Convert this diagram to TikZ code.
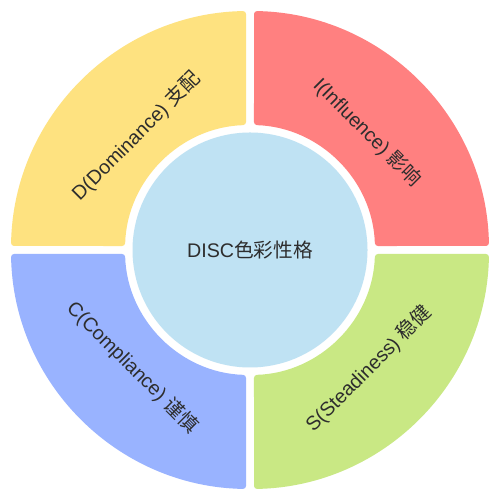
\documentclass[tikz,border=0pt]{standalone}
\usepackage{fontspec}
\setmainfont{Liberation Sans}
\newfontfamily\cjk{Noto Sans CJK SC}
\definecolor{discY}{RGB}{254,226,128}
\definecolor{discR}{RGB}{255,128,128}
\definecolor{discB}{RGB}{153,179,255}
\definecolor{discG}{RGB}{201,232,132}
\definecolor{discC}{RGB}{191,226,243}
\definecolor{disctext}{RGB}{45,45,45}
\tikzset{
  quadshape/.style={rounded corners=0.06cm},
  lbl/.style={text=disctext, font=\fontsize{11.2}{13}\selectfont, inner sep=0pt},
}
\begin{document}
\begin{tikzpicture}
\useasboundingbox (0,0) rectangle (10,10);
\fill[white] (0,0) rectangle (10,10);
\begin{scope}[shift={(5,5)}]
  \foreach \ang/\col in {0/discR,90/discY,180/discB,270/discG}{
    \begin{scope}[rotate=\ang]
      \fill[\col, quadshape] (0.96:4.78) arc[start angle=0.96,end angle=89.04,radius=4.78]
        -- (88.17:2.5) arc[start angle=88.17,end angle=1.83,radius=2.5] -- cycle;
    \end{scope}
  }
  \node[circle, fill=discC, minimum size=4.7cm, inner sep=0pt] (core) at (0,0) {};
  \node[lbl] (center) at (0,0) {DISC{\cjk 色彩性格}};
  \node[lbl, rotate=-45] (I) at (45:3.32) {I(Influence) {\cjk 影响}};
  \node[lbl, rotate=45] (D) at (135:3.22) {D(Dominance) {\cjk 支配}};
  \node[lbl, rotate=-45] (C) at (225:3.32) {C(Compliance) {\cjk 谨慎}};
  \node[lbl, rotate=45] (S) at (315:3.36) {S(Steadiness) {\cjk 稳健}};
\end{scope}
\end{tikzpicture}
\end{document}
